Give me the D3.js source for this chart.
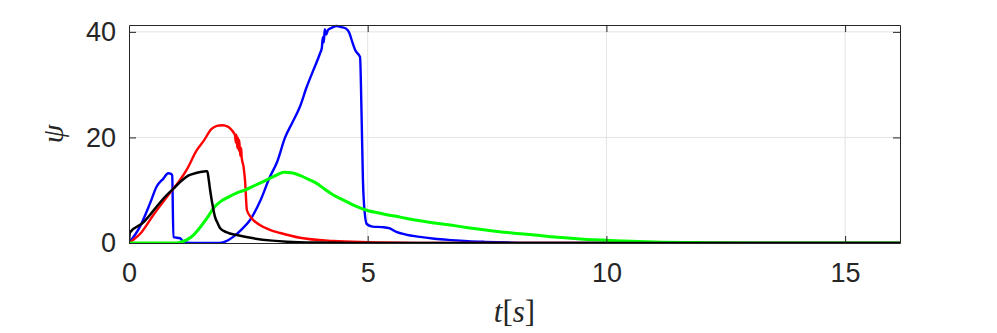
<!DOCTYPE html>
<html>
<head>
<meta charset="utf-8">
<script src="https://cdn.jsdelivr.net/npm/d3@7"></script>
<style>
  body { margin: 0; background: #fff; }
  svg { display: block; }
</style>
</head>
<body>
<div id="chart"></div>
<script>
'use strict';

// data
var xTicks = [0, 5, 10, 15];
var yTicks = [0, 20, 40];

var tBlue = [0, 0.23, 0.44, 0.58, 0.72, 0.82, 0.88, 0.905, 0.93, 1.07, 1.14, 1.3, 1.9, 2.0, 2.19, 2.35, 2.54, 2.75, 2.95, 3.1, 3.27, 3.42, 3.58, 3.72, 3.86, 4.0, 4.04, 4.06, 4.08, 4.1, 4.13, 4.17, 4.25, 4.35, 4.45, 4.55, 4.62, 4.68, 4.74, 4.84, 4.87, 4.9, 4.94, 4.98, 5.1, 5.3, 5.45, 5.6, 5.8, 6.05, 6.4, 6.75, 7.1, 7.45, 8.0, 8.6, 16.15];
var psiBlue = [0, 3.1, 7.5, 10.7, 12.2, 13.2, 13.1, 12.8, 1.1, 0.9, 0.25, 0, 0, 0.2, 1.2, 2.5, 4.4, 8, 12.5, 15.3, 20, 22.8, 25.8, 29.5, 32.7, 35.9, 37, 39, 38, 40.5, 39.5, 40.4, 40.8, 41.1, 40.9, 40.6, 39.7, 38, 36.5, 35.2, 25, 12, 5.5, 3.6, 3.1, 3.0, 2.8, 2.1, 1.6, 1.2, 0.8, 0.55, 0.35, 0.22, 0.08, 0, 0];

var tRed = [0, 0.09, 0.25, 0.51, 0.7, 0.86, 1.05, 1.21, 1.42, 1.56, 1.73, 1.84, 1.95, 2.08, 2.15, 2.2, 2.22, 2.24, 2.25, 2.27, 2.28, 2.3, 2.31, 2.33, 2.35, 2.36, 2.4, 2.43, 2.47, 2.57, 2.74, 2.95, 3.17, 3.58, 4.28, 5.0, 6.0, 7.0, 16.15];
var psiRed = [0, 0.6, 1.9, 5.3, 7.6, 9.5, 11.7, 13.9, 17.6, 19.3, 21.6, 22.2, 22.3, 22, 21.4, 20.8, 20.4, 19, 20.5, 18, 20, 17.5, 19.5, 16.5, 18, 16.2, 14.4, 11.9, 6.2, 4.7, 3.4, 2.5, 1.9, 1.0, 0.38, 0.15, 0.03, 0, 0];

var tGreen = [0, 1.0, 1.1, 1.21, 1.35, 1.45, 1.56, 1.67, 1.77, 1.91, 2.1, 2.26, 2.45, 2.61, 2.8, 2.96, 3.1, 3.24, 3.4, 3.58, 3.75, 3.93, 4.1, 4.28, 4.45, 4.63, 4.8, 4.98, 5.33, 5.68, 6.03, 6.4, 6.73, 7.1, 7.43, 7.8, 8.13, 8.5, 8.83, 9.2, 9.53, 9.9, 10.2, 11, 12, 13, 16.15];
var psiGreen = [0, 0, 0.2, 0.6, 1.5, 2.5, 3.8, 5.2, 6.6, 7.8, 8.8, 9.5, 10.1, 10.8, 11.6, 12.3, 12.9, 13.4, 13.3, 12.8, 12.1, 11.3, 10.2, 9.1, 8.3, 7.5, 6.8, 6.2, 5.5, 4.9, 4.3, 3.8, 3.4, 2.9, 2.5, 2.1, 1.8, 1.5, 1.2, 0.95, 0.7, 0.55, 0.43, 0.2, 0.07, 0.02, 0];

var tBlack = [0, 0.02, 0.3, 0.5, 0.7, 0.93, 1.1, 1.25, 1.42, 1.52, 1.61, 1.64, 1.67, 1.7, 1.75, 1.8, 1.86, 1.91, 2.05, 2.26, 2.61, 3.0, 3.31, 4.0, 5.0, 16.15];
var psiBlack = [0.3, 2.0, 3.9, 6.0, 8.2, 10.3, 11.8, 12.8, 13.3, 13.5, 13.6, 13.6, 12, 10, 7.2, 5.0, 3.7, 2.8, 2.0, 1.5, 0.88, 0.45, 0.25, 0.08, 0, 0];

var series = [
    { t: tBlue, psi: psiBlue, color: "#0000ff", width: 2.4 },
    { t: tRed, psi: psiRed, color: "#ff0000", width: 2.4 },
    { t: tGreen, psi: psiGreen, color: "#00ff00", width: 3 },
    { t: tBlack, psi: psiBlack, color: "#000000", width: 2.5 }
];

var W = 997, H = 333;
var margin = { top: 25, right: 97, bottom: 90, left: 129 };
var width = W - margin.left - margin.right,
    height = H - margin.top - margin.bottom;

var x = d3.scaleLinear().domain([0, 16.15]).range([0, width]);
var y = d3.scaleLinear().domain([0, 41.3]).range([height, 0]);

var svg = d3.select("#chart").append("svg")
    .attr("width", W)
    .attr("height", H);

var g = svg.append("g")
    .attr("transform", "translate(" + margin.left + "," + margin.top + ")");

// grid
g.append("g").selectAll("line")
    .data(xTicks.filter(function(d) { return d > 0; }))
    .enter().append("line")
    .attr("x1", function(d) { return x(d); })
    .attr("x2", function(d) { return x(d); })
    .attr("y1", 0).attr("y2", height)
    .attr("stroke", "#e3e3e3").attr("stroke-width", 1);
g.append("g").selectAll("line")
    .data(yTicks.filter(function(d) { return d > 0; }))
    .enter().append("line")
    .attr("x1", 0).attr("x2", width)
    .attr("y1", function(d) { return y(d); })
    .attr("y2", function(d) { return y(d); })
    .attr("stroke", "#e3e3e3").attr("stroke-width", 1);

// curves
g.append("clipPath").attr("id", "clip")
    .append("rect").attr("x", 0).attr("y", -2).attr("width", width).attr("height", height + 2);

var line = d3.line()
    .curve(d3.curveMonotoneX)
    .x(function(d) { return x(d[0]); })
    .y(function(d) { return y(d[1]); });

var curves = g.append("g").attr("clip-path", "url(#clip)");
series.forEach(function(s) {
    var pts = s.t.map(function(t, i) { return [t, s.psi[i]]; });
    curves.append("path")
        .datum(pts)
        .attr("d", line)
        .attr("fill", "none")
        .attr("stroke", s.color)
        .attr("stroke-width", s.width)
        .attr("stroke-linejoin", "round");
});

// axes, inward ticks on all four sides
var tickFont = "'Liberation Sans', Arial, sans-serif";
var axisColor = "#262626";

var xb = g.append("g").attr("transform", "translate(0," + height + ")")
    .call(d3.axisBottom(x).tickValues(xTicks).tickSizeInner(-7).tickSizeOuter(0).tickPadding(20));
var xt = g.append("g")
    .call(d3.axisTop(x).tickValues(xTicks).tickSizeInner(-7).tickSizeOuter(0).tickFormat(""));
var yl = g.append("g")
    .call(d3.axisLeft(y).tickValues(yTicks).tickSizeInner(-7).tickSizeOuter(0).tickPadding(13));
var yr = g.append("g").attr("transform", "translate(" + width + ",0)")
    .call(d3.axisRight(y).tickValues(yTicks).tickSizeInner(-7).tickSizeOuter(0).tickFormat(""));

[xb, xt, yl, yr].forEach(function(a) {
    a.select(".domain").attr("stroke", axisColor).attr("stroke-width", 1);
    a.selectAll(".tick line").attr("stroke", axisColor);
    a.selectAll(".tick text")
        .attr("fill", axisColor)
        .style("font-family", tickFont)
        .style("font-size", "27px");
});
xt.selectAll(".tick").filter(function(d) { return d === 0; }).remove();
yr.selectAll(".tick").filter(function(d) { return d === 0; }).remove();

// labels
svg.append("text")
    .attr("x", margin.left + width / 2)
    .attr("y", 322)
    .attr("text-anchor", "middle")
    .style("font-family", "'Liberation Serif', 'DejaVu Serif', serif")
    .style("font-size", "31px")
    .attr("fill", axisColor)
    .html('<tspan font-style="italic">t</tspan>[<tspan font-style="italic">s</tspan>]');

svg.append("text")
    .attr("transform", "translate(63," + (margin.top + height / 2) + ") rotate(-90)")
    .attr("text-anchor", "middle")
    .style("font-family", "'Liberation Serif', 'DejaVu Serif', serif")
    .style("font-style", "italic")
    .style("font-size", "30px")
    .attr("fill", axisColor)
    .text("ψ");
</script>
</body>
</html>
